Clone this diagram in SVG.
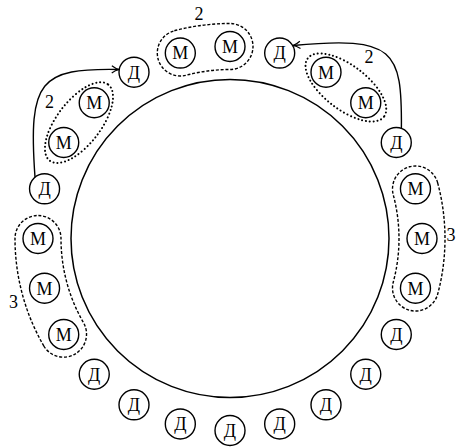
<svg xmlns="http://www.w3.org/2000/svg" width="457" height="447" viewBox="0 0 457 447">
<defs>
<style>
.n{fill:#fff;stroke:#000;stroke-width:1.4}
.t{font-size:18px;text-anchor:middle;fill:#000}
.lb{font-size:18px;fill:#000}
.dash{fill:none;stroke:#000;stroke-width:1.4;stroke-dasharray:3 1.8}
.dot{fill:none;stroke:#000;stroke-width:2;stroke-dasharray:0.1 3.8;stroke-linecap:round}
.c{fill:none;stroke:#000;stroke-width:1.4}
</style>
<marker id="ah" viewBox="0 0 10 10" refX="9" refY="5" markerWidth="9" markerHeight="9" markerUnits="userSpaceOnUse" orient="auto">
<path d="M1,1 Q5,4 9,5 Q5,6 1,9" fill="none" stroke="#000" stroke-width="1.3"/>
</marker>
</defs>
<rect width="457" height="447" fill="#fff"/>
<circle id="ring" cx="230" cy="238.5" r="159" fill="none" stroke="#000" stroke-width="1.5"/>
<g id="groups">
<path id="g-top" class="dash" d="M174.35,30.8 A215,215 0 0 1 230,23.5 A23,23 0 0 1 230,69.5 A169,169 0 0 0 186.26,75.26 A23,23 0 0 1 174.35,30.8 Z"/>
<path id="g-right" class="dash" d="M437.67,182.85 A215,215 0 0 1 437.67,294.15 A23,23 0 0 1 393.24,282.24 A169,169 0 0 0 393.24,194.76 A23,23 0 0 1 437.67,182.85 Z"/>
<path id="g-left" class="dash" d="M43.81,346 A215,215 0 0 1 15,238.5 A23,23 0 0 1 61,238.5 A169,169 0 0 0 83.64,323 A23,23 0 0 1 43.81,346 Z"/>
<ellipse id="g-tr" class="dot" cx="345.88" cy="87.48" rx="48" ry="22" transform="rotate(37.5 345.88 87.48)"/>
<ellipse id="g-tl" class="dot" cx="78.98" cy="122.62" rx="48" ry="22" transform="rotate(-52.5 78.98 122.62)"/>
</g>
<g id="labels" font-family="'Liberation Serif', 'DejaVu Serif', serif">
<text class="lb" x="199" y="20" text-anchor="middle">2</text>
<text class="lb" x="369" y="63" text-anchor="middle">2</text>
<text class="lb" x="49.5" y="108" text-anchor="middle">2</text>
<text class="lb" x="446.5" y="241">3</text>
<text class="lb" x="13.5" y="308" text-anchor="middle">3</text>
</g>
<g id="connectors">
<path class="c" d="M35,177 C28,80 40,68 119,69.5" marker-end="url(#ah)"/>
<path class="c" d="M401.4,128.4 C402,50 395,36 293,45.5" marker-end="url(#ah)"/>
</g>
<g id="nodes" font-family="'Liberation Serif', 'DejaVu Serif', serif">
<g id="n1"><circle class="n" cx="180.31" cy="53.04" r="15"/><text class="t" x="180.31" y="59.3">М</text></g>
<g id="n2"><circle class="n" cx="230" cy="46.5" r="15"/><text class="t" x="230" y="52.8">М</text></g>
<g id="n3"><circle class="n" cx="279.69" cy="53.04" r="15"/><text class="t" x="279.69" y="59.3">Д</text></g>
<g id="n4"><circle class="n" cx="326" cy="72.22" r="15"/><text class="t" x="326" y="78.5">М</text></g>
<g id="n5"><circle class="n" cx="365.76" cy="102.74" r="15"/><text class="t" x="365.76" y="109">М</text></g>
<g id="n6"><circle class="n" cx="396.28" cy="142.5" r="15"/><text class="t" x="396.28" y="148.8">Д</text></g>
<g id="n7"><circle class="n" cx="415.46" cy="188.81" r="15"/><text class="t" x="415.46" y="195.1">М</text></g>
<g id="n8"><circle class="n" cx="422" cy="238.5" r="15"/><text class="t" x="422" y="244.8">М</text></g>
<g id="n9"><circle class="n" cx="415.46" cy="288.19" r="15"/><text class="t" x="415.46" y="294.5">М</text></g>
<g id="n10"><circle class="n" cx="396.28" cy="334.5" r="15"/><text class="t" x="396.28" y="340.8">Д</text></g>
<g id="n11"><circle class="n" cx="365.76" cy="374.26" r="15"/><text class="t" x="365.76" y="380.6">Д</text></g>
<g id="n12"><circle class="n" cx="326" cy="404.78" r="15"/><text class="t" x="326" y="411.1">Д</text></g>
<g id="n13"><circle class="n" cx="279.69" cy="423.96" r="15"/><text class="t" x="279.69" y="430.3">Д</text></g>
<g id="n14"><circle class="n" cx="230" cy="430.5" r="15"/><text class="t" x="230" y="436.8">Д</text></g>
<g id="n15"><circle class="n" cx="180.31" cy="423.96" r="15"/><text class="t" x="180.31" y="430.3">Д</text></g>
<g id="n16"><circle class="n" cx="134" cy="404.78" r="15"/><text class="t" x="134" y="411.1">Д</text></g>
<g id="n17"><circle class="n" cx="94.24" cy="374.26" r="15"/><text class="t" x="94.24" y="380.6">Д</text></g>
<g id="n18"><circle class="n" cx="63.72" cy="334.5" r="15"/><text class="t" x="63.72" y="340.8">М</text></g>
<g id="n19"><circle class="n" cx="44.54" cy="288.19" r="15"/><text class="t" x="44.54" y="294.5">М</text></g>
<g id="n20"><circle class="n" cx="38" cy="238.5" r="15"/><text class="t" x="38" y="244.8">М</text></g>
<g id="n21"><circle class="n" cx="44.54" cy="188.81" r="15"/><text class="t" x="44.54" y="195.1">Д</text></g>
<g id="n22"><circle class="n" cx="63.72" cy="142.5" r="15"/><text class="t" x="63.72" y="148.8">М</text></g>
<g id="n23"><circle class="n" cx="94.24" cy="102.74" r="15"/><text class="t" x="94.24" y="109">М</text></g>
<g id="n24"><circle class="n" cx="134" cy="72.22" r="15"/><text class="t" x="134" y="78.5">Д</text></g>
</g>
</svg>
